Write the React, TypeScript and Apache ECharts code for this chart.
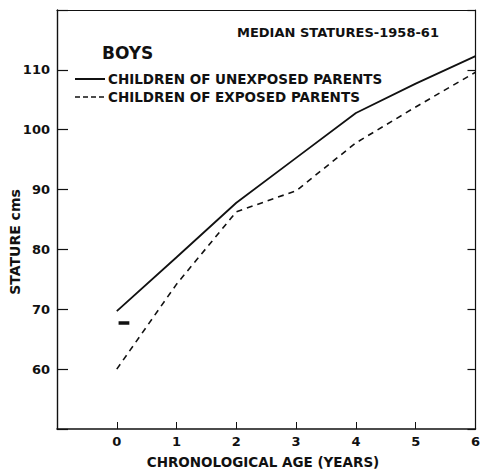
import React, { useEffect, useRef } from "react";
import * as echarts from "echarts";

const ages = [0, 1, 2, 3, 4, 5, 6];
const unexposed = [69.7, 78.7, 87.8, 95.3, 102.8, 107.7, 112.3];
const exposed = [60.0, 74.2, 86.3, 89.8, 97.8, 103.8, 109.6];
const markerX = [0.03, 0.21];
const markerY = 67.7;
const yTickLabels = [60, 70, 80, 90, 100, 110];
const xTickLabels = [0, 1, 2, 3, 4, 5, 6];

const title = "MEDIAN STATURES-1958-61";
const subtitle = "BOYS";
const seriesNames = ["CHILDREN OF UNEXPOSED PARENTS", "CHILDREN OF EXPOSED PARENTS"];
const xTitle = "CHRONOLOGICAL AGE (YEARS)";
const yTitle = "STATURE cms";

const FONT = "DejaVu Sans";
const INK = "#111";

export default function App() {
  const ref = useRef<HTMLDivElement>(null);
  useEffect(() => {
    if (!ref.current) return;
    const chart = echarts.init(ref.current, undefined, { renderer: "svg" });
    const pts = (ys: number[]) => ages.map((a, i) => [a, ys[i]]);
    chart.setOption({
      animation: false,
      backgroundColor: "#fff",
      grid: { left: 57, top: 10, right: 2, bottom: 47, containLabel: false },
      xAxis: [
        {
          type: "value",
          min: -1,
          max: 6,
          interval: 1,
          position: "bottom",
          splitLine: { show: false },
          axisLine: { show: true, onZero: false, lineStyle: { color: INK, width: 1.6 } },
          axisTick: { show: true, inside: true, length: 7, lineStyle: { color: INK, width: 1 } },
          axisLabel: {
            show: true,
            margin: 6,
            color: INK,
            fontFamily: FONT,
            fontSize: 13,
            fontWeight: "bold",
            showMaxLabel: true,
            formatter: (v: number) => (xTickLabels.includes(v) ? String(v) : ""),
          },
        },
        {
          type: "value",
          min: -1,
          max: 6,
          interval: 1,
          position: "top",
          splitLine: { show: false },
          axisLine: { show: true, onZero: false, lineStyle: { color: INK, width: 1.2 } },
          axisTick: { show: false },
          axisLabel: { show: false },
        },
      ],
      yAxis: [
        {
          type: "value",
          min: 50,
          max: 120,
          interval: 10,
          position: "left",
          splitLine: { show: false },
          axisLine: { show: true, onZero: false, lineStyle: { color: INK, width: 1.4 } },
          axisTick: { show: true, inside: true, length: 11, lineStyle: { color: INK, width: 1.2 } },
          axisLabel: {
            show: true,
            margin: 7,
            color: INK,
            fontFamily: FONT,
            fontSize: 13,
            fontWeight: "bold",
            formatter: (v: number) => (yTickLabels.includes(v) ? String(v) : ""),
          },
        },
        {
          type: "value",
          min: 50,
          max: 120,
          interval: 10,
          position: "right",
          splitLine: { show: false },
          axisLine: { show: true, onZero: false, lineStyle: { color: INK, width: 1.2 } },
          axisTick: { show: true, inside: true, length: 8, lineStyle: { color: INK, width: 1.2 } },
          axisLabel: { show: false },
        },
      ],
      series: [
        {
          name: seriesNames[0],
          type: "line",
          data: pts(unexposed),
          showSymbol: false,
          symbol: "none",
          lineStyle: { color: INK, width: 1.8, type: "solid" },
        },
        {
          name: seriesNames[1],
          type: "line",
          data: pts(exposed),
          showSymbol: false,
          symbol: "none",
          lineStyle: { color: INK, width: 1.6, type: [6, 5] },
        },
        {
          name: "marker",
          type: "line",
          data: markerX.map((x) => [x, markerY]),
          showSymbol: false,
          symbol: "none",
          lineStyle: { color: INK, width: 3.5 },
        },
      ],
      graphic: [
        {
          type: "text",
          left: 237,
          top: 26,
          style: { text: title, fontFamily: FONT, fontSize: 13, fill: INK, fontWeight: "bold" },
        },
        {
          type: "text",
          left: 102,
          top: 44,
          style: { text: subtitle, fontFamily: FONT, fontSize: 17, fill: INK, fontWeight: "bold" },
        },
        {
          type: "line",
          shape: { x1: 75, y1: 79, x2: 105, y2: 79 },
          style: { stroke: INK, lineWidth: 2 },
        },
        {
          type: "text",
          left: 108,
          top: 72,
          style: { text: seriesNames[0], fontFamily: FONT, fontSize: 13.5, fill: INK, fontWeight: "bold" },
        },
        {
          type: "line",
          shape: { x1: 75, y1: 97, x2: 105, y2: 97 },
          style: { stroke: INK, lineWidth: 1.6, lineDash: [5, 3] },
        },
        {
          type: "text",
          left: 108,
          top: 90,
          style: { text: seriesNames[1], fontFamily: FONT, fontSize: 13.5, fill: INK, fontWeight: "bold" },
        },
        {
          type: "text",
          x: 263,
          y: 462,
          style: {
            text: xTitle,
            fontFamily: FONT,
            fontSize: 13.5,
            fontWeight: "bold",
            fill: INK,
            align: "center",
            verticalAlign: "middle",
          },
        },
        {
          type: "text",
          x: 15,
          y: 242,
          rotation: Math.PI / 2,
          style: {
            text: yTitle,
            fontFamily: FONT,
            fontSize: 14,
            fontWeight: "bold",
            fill: INK,
            align: "center",
            verticalAlign: "middle",
          },
        },
      ],
    });
    return () => chart.dispose();
  }, []);
  return <div ref={ref} style={{ width: 483, height: 476, position: "absolute", left: 0, top: 0 }} />;
}
